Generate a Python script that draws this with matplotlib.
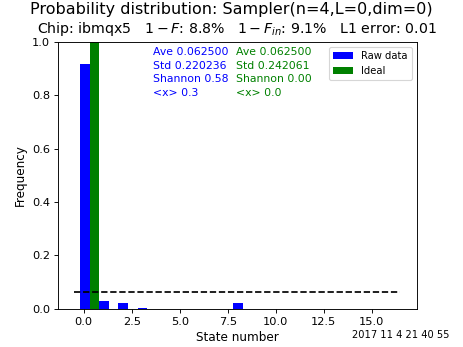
import numpy as np
import matplotlib
matplotlib.use("Agg")
import matplotlib.pyplot as plt

states = np.arange(16)
raw_data = [0.915, 0.028, 0.023, 0.003, 0.001, 0.0, 0.001, 0.0,
            0.022, 0.001, 0.0, 0.001, 0.0, 0.001, 0.0, 0.001]
ideal = [1.0] + [0.0] * 15

raw_stats = ["Ave 0.062500", "Std 0.220236", "Shannon 0.58", "<x> 0.3"]
ideal_stats = ["Ave 0.062500", "Std 0.242061", "Shannon 0.00", "<x> 0.0"]

title = "Probability distribution: Sampler(n=4,L=0,dim=0)"
subtitle = r"Chip: ibmqx5   $1-F$: 8.8%   $1-F_{in}$: 9.1%   L1 error: 0.01"
stamp = "2017 11 4 21 40 55"

dpi = 82
fig = plt.figure(figsize=(463 / dpi, 347 / dpi), dpi=dpi)
ax = fig.add_subplot(111)

ax.bar(states - 0.2, raw_data, width=0.5, align="edge", color="blue", label="Raw data")
ax.bar(states + 0.3, ideal, width=0.5, align="edge", color="green", label="Ideal")
ax.hlines(1.0 / len(states), -0.5, 16.5, colors="black", linestyles="dashed")

ax.set_ylim(0, 1)
ax.set_xlabel("State number", fontsize=10.5)
ax.set_ylabel("Frequency", fontsize=10.5)
ax.legend(loc="upper right", fontsize=8.8)

ax.text(0.265, 0.98, "\n".join(raw_stats), transform=ax.transAxes,
        color="blue", fontsize=9.6, va="top", linespacing=1.45)
ax.text(0.496, 0.98, "\n".join(ideal_stats), transform=ax.transAxes,
        color="green", fontsize=9.6, va="top", linespacing=1.45)

fig.suptitle(title, fontsize=14, y=0.995)
ax.set_title(subtitle, fontsize=12.4, pad=8)
fig.text(0.97, 0.025, stamp, fontsize=8.7, ha="right")

fig.savefig("out.png", dpi=dpi)
